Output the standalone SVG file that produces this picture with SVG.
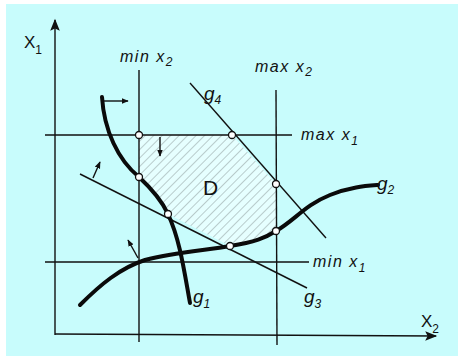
<svg xmlns="http://www.w3.org/2000/svg" width="459" height="356" viewBox="0 0 459 356">
<defs>
<style>
.ln{stroke:#111;stroke-width:1.4;fill:none}
.th{stroke:#0a0a0a;stroke-width:4;fill:none;stroke-linecap:round}
.pt{fill:#fff;stroke:#111;stroke-width:1.3}
.t{font-family:"Liberation Sans",Arial,sans-serif;font-style:italic;fill:#111;font-size:16px}
.w{letter-spacing:1.5px}
.s{font-size:12px}
</style>
<pattern id="hatch" patternUnits="userSpaceOnUse" width="6" height="6" patternTransform="rotate(45)">
<rect width="6" height="6" fill="#e6ffff"/>
<line x1="0" y1="0" x2="0" y2="6" stroke="#8a9a9a" stroke-width="1"/>
</pattern>
<marker id="ah" viewBox="0 0 10 10" refX="9" refY="5" markerWidth="7" markerHeight="7" orient="auto" markerUnits="userSpaceOnUse">
<path d="M0,1 L10,5 L0,9 Z" fill="#111"/>
</marker>
<marker id="ahb" viewBox="0 0 10 10" refX="9" refY="5" markerWidth="14" markerHeight="12" orient="auto" markerUnits="userSpaceOnUse">
<path d="M0,1 L10,5 L0,9 L2,5 Z" fill="#111"/>
</marker>
</defs>
<rect x="0" y="0" width="459" height="356" fill="#fff"/>
<rect x="6" y="4" width="452" height="352" fill="#c8fcfc"/>
<g id="region-D">
<path d="M139,135 L232,135 L276,184 L276,231 C265,238 255,242 230,246 L168,214 C160,200 150,188 139,177 Z" fill="url(#hatch)"/>
<text class="t" x="203" y="195" style="font-size:21px;font-style:normal">D</text>
</g>
<g id="connectors">
<line class="ln" x1="55" y1="335" x2="55" y2="20" marker-end="url(#ahb)" stroke-width="1.6"/>
<line class="ln" x1="55" y1="334" x2="436" y2="336" marker-end="url(#ahb)" stroke-width="1.6"/>
<line class="ln" x1="139" y1="70" x2="139" y2="342"/>
<line class="ln" x1="276" y1="90" x2="277" y2="345"/>
<line class="ln" x1="45" y1="135" x2="292" y2="135"/>
<line class="ln" x1="45" y1="262" x2="309" y2="262"/>
<line class="ln" x1="190" y1="83" x2="326" y2="238" stroke-width="1.8"/>
<line class="ln" x1="80" y1="174" x2="307" y2="288" stroke-width="1.8"/>
<path class="th" d="M102,97 C104,130 118,160 139,177 C155,192 163,203 168,214 C180,240 184,270 190,303"/>
<path class="th" d="M80,305 C100,285 120,268 145,260 C175,252 210,250 230,246 C255,242 265,238 276,231 C295,220 305,205 330,195 C350,187 365,186 378,185"/>
<line class="ln" x1="104" y1="101" x2="128" y2="101" marker-end="url(#ah)"/>
<line class="ln" x1="160" y1="137" x2="160" y2="156" marker-end="url(#ah)"/>
<line class="ln" x1="93" y1="178" x2="100" y2="162" marker-end="url(#ah)"/>
<line class="ln" x1="138" y1="258" x2="128" y2="240" marker-end="url(#ah)"/>
</g>
<g id="points">
<circle class="pt" cx="139" cy="135" r="3.5"/>
<circle class="pt" cx="232" cy="135" r="3.5"/>
<circle class="pt" cx="139" cy="177" r="3.5"/>
<circle class="pt" cx="168" cy="214" r="3.5"/>
<circle class="pt" cx="276" cy="184" r="3.5"/>
<circle class="pt" cx="276" cy="231" r="3.5"/>
<circle class="pt" cx="230" cy="246" r="3.5"/>
</g>
<g id="labels">
<text class="t" x="24" y="48" style="font-style:normal;font-size:17px">X<tspan class="s" dy="6">1</tspan></text>
<text class="t" x="421" y="327" style="font-style:normal;font-size:17px">X<tspan class="s" dy="6">2</tspan></text>
<text class="t w" x="120" y="62">min x<tspan class="s" dy="4">2</tspan></text>
<text class="t w" x="255" y="72">max x<tspan class="s" dy="4">2</tspan></text>
<text class="t w" x="301" y="140">max x<tspan class="s" dy="5">1</tspan></text>
<text class="t w" x="313" y="267">min x<tspan class="s" dy="5">1</tspan></text>
<text class="t" x="204" y="100" style="font-size:19px">g<tspan class="s" dy="4">4</tspan></text>
<text class="t" x="377" y="190" style="font-size:19px">g<tspan class="s" dy="4">2</tspan></text>
<text class="t" x="304" y="303" style="font-size:19px">g<tspan class="s" dy="5">3</tspan></text>
<text class="t" x="193" y="303" style="font-size:19px">g<tspan class="s" dy="5">1</tspan></text>
</g>
</svg>
